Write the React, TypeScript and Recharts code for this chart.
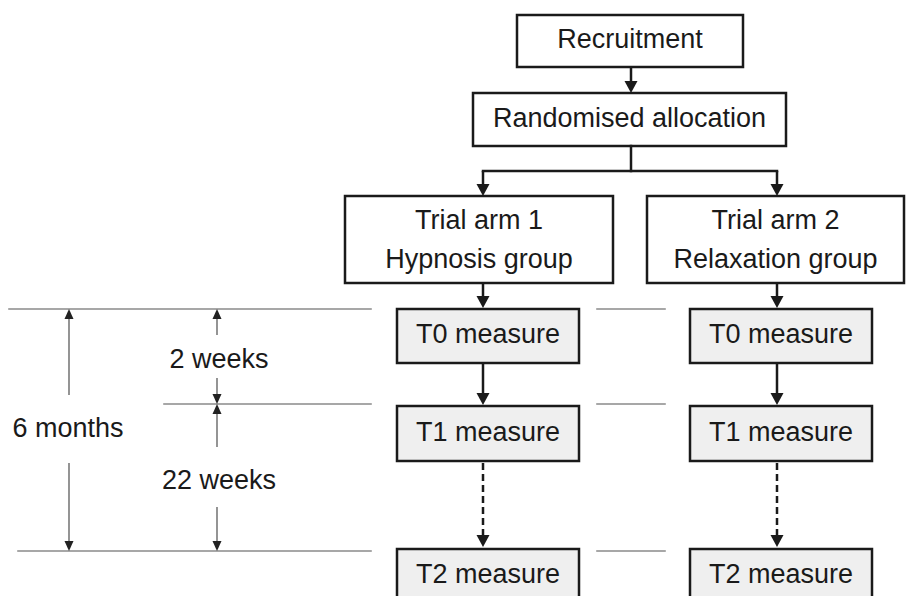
import { ScatterChart, Scatter, XAxis, YAxis, ReferenceArea, ReferenceLine } from "recharts";

// texts
const stages = ["Recruitment", "Randomised allocation"];
const arms = [
  ["Trial arm 1", "Hypnosis group"],
  ["Trial arm 2", "Relaxation group"],
];
const measures = ["T0 measure", "T1 measure", "T2 measure"];
const intervals = ["2 weeks", "22 weeks"];
const totalSpan = "6 months";

// layout in diagram units (domain matches the 906x596 canvas)
const W = 906;
const H = 596;
const stageCols = [[517, 743], [473, 786]];
const stageRows = [[15, 67], [93, 146]];
const stemX = 631;
const splitY = 171;
const armCols = [[345, 613], [647, 904]];
const armRow = [196, 283];
const armX = [483, 777];
const measureCols = [[397, 579], [690, 872]];
const measureRows = [[309, 363], [406, 461], [549, 603]];
const timeY = [309, 404, 551];
const leftRuleStart = [9, 164, 18];
const leftRuleEnd = 371;
const midRule = [597, 665];
const spanX = 69;
const intervalX = 217;
const spanGap = [395, 463];
const intervalGaps = [[335, 378], [447, 507]];

const INK = "#1a1a1a";
const RULE = "#8a8a8a";
const FONT = "'Liberation Sans', Arial, sans-serif";
const FS = 27;

const noteData = [
  { x: spanX - 1, y: 437, text: totalSpan },
  { x: intervalX + 2, y: 368, text: intervals[0] },
  { x: intervalX + 2, y: 489, text: intervals[1] },
];

function boxShape(lines: string[], fill: string) {
  return (p: any) => {
    const cy = p.y + p.height / 2;
    const cx = p.x + p.width / 2;
    const base = lines.length === 1 ? [cy + 7] : [cy - 10.5, cy + 28.5];
    return (
      <g>
        <rect x={p.x} y={p.y} width={p.width} height={p.height} fill={fill} stroke={INK} strokeWidth={2.5} />
        {lines.map((t, i) => (
          <text key={i} x={cx} y={base[i]} textAnchor="middle" fontSize={FS} fontFamily={FONT} fill={INK}>
            {t}
          </text>
        ))}
      </g>
    );
  };
}

function arrowShape(color: string, width: number, hl: number, hw: number, headFill: string, dash?: string) {
  return (p: any) => {
    const { x1, y1, x2, y2 } = p;
    const len = Math.hypot(x2 - x1, y2 - y1) || 1;
    const ux = (x2 - x1) / len;
    const uy = (y2 - y1) / len;
    const bx = x2 - ux * hl;
    const by = y2 - uy * hl;
    const px = -uy;
    const py = ux;
    return (
      <g>
        <line x1={x1} y1={y1} x2={bx} y2={by} stroke={color} strokeWidth={width} strokeDasharray={dash} />
        <polygon
          points={`${x2},${y2} ${bx + px * hw},${by + py * hw} ${bx - px * hw},${by - py * hw}`}
          fill={headFill}
        />
      </g>
    );
  };
}

const solidArrow = arrowShape(INK, 2.5, 12, 6.5, INK);
const dashedArrow = arrowShape(INK, 2.5, 12, 6.5, INK, "7 4");
const dimArrow = arrowShape("#7a7a7a", 1.6, 10, 4.5, "#222");

const plainLine = (color: string, width: number) => (p: any) =>
  <line x1={p.x1} y1={p.y1} x2={p.x2} y2={p.y2} stroke={color} strokeWidth={width} strokeLinecap="square" />;

export default function App() {
  return (
    <div style={{ position: "absolute", left: 0, top: 0, width: W, height: H, background: "#fff", overflow: "hidden" }}>
      <ScatterChart width={W} height={H} margin={{ top: 0, right: 0, bottom: 0, left: 0 }}>
        <XAxis type="number" dataKey="x" domain={[0, W]} hide />
        <YAxis type="number" dataKey="y" domain={[0, H]} reversed hide />

        {/* time rules */}
        {timeY.map((y, i) => (
          <ReferenceLine key={`l${i}`} segment={[{ x: leftRuleStart[i], y }, { x: leftRuleEnd, y }]} shape={plainLine(RULE, 1.6)} />
        ))}
        {timeY.map((y, i) => (
          <ReferenceLine key={`m${i}`} segment={[{ x: midRule[0], y }, { x: midRule[1], y }]} shape={plainLine(RULE, 1.6)} />
        ))}

        {/* dimension arrows */}
        <ReferenceLine segment={[{ x: spanX, y: spanGap[0] }, { x: spanX, y: timeY[0] }]} shape={dimArrow} />
        <ReferenceLine segment={[{ x: spanX, y: spanGap[1] }, { x: spanX, y: timeY[2] }]} shape={dimArrow} />
        {intervalGaps.map((g, i) => (
          <ReferenceLine key={`iu${i}`} segment={[{ x: intervalX, y: g[0] }, { x: intervalX, y: timeY[i] }]} shape={dimArrow} />
        ))}
        {intervalGaps.map((g, i) => (
          <ReferenceLine key={`id${i}`} segment={[{ x: intervalX, y: g[1] }, { x: intervalX, y: timeY[i + 1] }]} shape={dimArrow} />
        ))}

        {/* connectors */}
        <ReferenceLine segment={[{ x: stemX, y: stageRows[0][1] }, { x: stemX, y: stageRows[1][0] }]} shape={solidArrow} />
        <ReferenceLine segment={[{ x: stemX, y: stageRows[1][1] }, { x: stemX, y: splitY }]} shape={plainLine(INK, 2.5)} />
        <ReferenceLine segment={[{ x: armX[0], y: splitY }, { x: armX[1], y: splitY }]} shape={plainLine(INK, 2.5)} />
        {armX.map((x, i) => (
          <ReferenceLine key={`a${i}`} segment={[{ x, y: splitY }, { x, y: armRow[0] }]} shape={solidArrow} />
        ))}
        {armX.map((x, i) => (
          <ReferenceLine key={`b${i}`} segment={[{ x, y: armRow[1] }, { x, y: measureRows[0][0] - 1 }]} shape={solidArrow} />
        ))}
        {armX.map((x, i) => (
          <ReferenceLine key={`c${i}`} segment={[{ x, y: measureRows[0][1] }, { x, y: measureRows[1][0] - 1 }]} shape={solidArrow} />
        ))}
        {armX.map((x, i) => (
          <ReferenceLine key={`d${i}`} segment={[{ x, y: measureRows[1][1] + 2 }, { x, y: measureRows[2][0] - 2 }]} shape={dashedArrow} />
        ))}

        {/* boxes */}
        {stages.map((s, i) => (
          <ReferenceArea
            key={`s${i}`}
            x1={stageCols[i][0]}
            x2={stageCols[i][1]}
            y1={stageRows[i][0]}
            y2={stageRows[i][1]}
            ifOverflow="visible"
            shape={boxShape([s], "#fff")}
          />
        ))}
        {arms.map((a, i) => (
          <ReferenceArea
            key={`arm${i}`}
            x1={armCols[i][0]}
            x2={armCols[i][1]}
            y1={armRow[0]}
            y2={armRow[1]}
            ifOverflow="visible"
            shape={boxShape(a, "#fff")}
          />
        ))}
        {measureCols.map((c, i) =>
          measures.map((m, j) => (
            <ReferenceArea
              key={`m${i}-${j}`}
              x1={c[0]}
              x2={c[1]}
              y1={measureRows[j][0]}
              y2={measureRows[j][1]}
              ifOverflow="visible"
              shape={boxShape([m], "#efefef")}
            />
          ))
        )}

        <Scatter
          data={noteData}
          isAnimationActive={false}
          shape={(p: any) => (
            <text x={p.cx} y={p.cy} textAnchor="middle" fontSize={FS} fontFamily={FONT} fill={INK}>
              {p.payload.text}
            </text>
          )}
        />
      </ScatterChart>
    </div>
  );
}
